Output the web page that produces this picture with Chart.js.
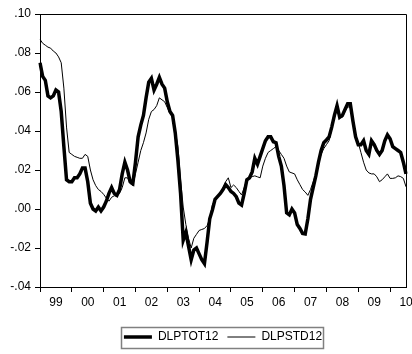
<!DOCTYPE html>
<html>
<head>
<meta charset="utf-8">
<script src="https://cdn.jsdelivr.net/npm/chart.js@4.4.1/dist/chart.umd.min.js"></script>
<style>
  html, body { margin: 0; padding: 0; background: #ffffff; }
  #wrap { width: 412px; height: 354px; }
</style>
</head>
<body>
<div id="wrap"><canvas id="chart" width="412" height="354"></canvas></div>
<script>
// Monthly observations, 1999M01 .. 2010M07
const startYear = 1999;

// DLPTOT12 (thick line)
const dlptot12 = [
  0.075, 0.068, 0.066, 0.058, 0.057, 0.058, 0.061, 0.060, 0.050, 0.032, 0.015, 0.014,
  0.014, 0.016, 0.016, 0.018, 0.021, 0.021, 0.014, 0.003, 0.000, -0.001, 0.001, -0.001,
  0.001, 0.004, 0.008, 0.011, 0.008, 0.007, 0.010, 0.018, 0.024, 0.020, 0.014, 0.013,
  0.024, 0.037, 0.043, 0.048, 0.057, 0.065, 0.067, 0.061, 0.064, 0.0675, 0.064, 0.062,
  0.055, 0.050, 0.048, 0.039, 0.025, 0.008, -0.016, -0.012, -0.019, -0.026, -0.021, -0.020,
  -0.023, -0.026, -0.028, -0.017, -0.005, -0.0005, 0.005, 0.0065, 0.008, 0.010, 0.0125, 0.011,
  0.009, 0.008, 0.0063, 0.003, 0.002, 0.008, 0.015, 0.016, 0.019, 0.026, 0.023, 0.027,
  0.031, 0.035, 0.037, 0.037, 0.0345, 0.034, 0.027, 0.022, 0.012, -0.002, -0.003, 0.000,
  -0.002, -0.008, -0.010, -0.0125, -0.0128, -0.005, 0.005, 0.011, 0.017, 0.024, 0.030, 0.034,
  0.0354, 0.037, 0.042, 0.048, 0.053, 0.047, 0.048, 0.051, 0.054, 0.054, 0.045, 0.037,
  0.033, 0.033, 0.035, 0.030, 0.028, 0.035, 0.033, 0.030, 0.028, 0.030, 0.035, 0.038,
  0.036, 0.032, 0.031, 0.030, 0.029, 0.024, 0.018
];

// DLPSTD12 (thin line)
const dlpstd12 = [
  0.087, 0.085, 0.084, 0.083, 0.0825, 0.081, 0.080, 0.078, 0.075, 0.062, 0.042, 0.029,
  0.028, 0.027, 0.0265, 0.026, 0.026, 0.028, 0.027, 0.020, 0.015, 0.012, 0.010, 0.009,
  0.0075, 0.0056, 0.004, 0.006, 0.0068, 0.0065, 0.008, 0.011, 0.016, 0.016, 0.013, 0.012,
  0.018, 0.024, 0.030, 0.034, 0.039, 0.046, 0.050, 0.051, 0.053, 0.057, 0.056, 0.055,
  0.052, 0.049, 0.048, 0.040, 0.032, 0.015, 0.001, -0.008, -0.015, -0.020, -0.015, -0.013,
  -0.011, -0.0105, -0.010, -0.0085, -0.005, 0.002, 0.005, 0.006, 0.0085, 0.011, 0.014, 0.016,
  0.011, 0.0123, 0.011, 0.009, 0.0072, 0.011, 0.015, 0.016, 0.0166, 0.017, 0.0165, 0.016,
  0.022, 0.026, 0.029, 0.030, 0.031, 0.032, 0.030, 0.028, 0.026, 0.022, 0.019, 0.0185,
  0.018, 0.015, 0.0125, 0.010, 0.0087, 0.007, 0.010, 0.014, 0.018, 0.024, 0.028, 0.031,
  0.033, 0.035, 0.041, 0.047, 0.0508, 0.047, 0.047, 0.050, 0.0525, 0.052, 0.044, 0.038,
  0.034, 0.029, 0.024, 0.020, 0.0185, 0.018, 0.018, 0.0165, 0.014, 0.015, 0.0165, 0.018,
  0.0157, 0.0157, 0.016, 0.017, 0.0166, 0.0157, 0.0114
];

// Year labels shown under the axis, one per calendar year
const yearLabels = ['99', '00', '01', '02', '03', '04', '05', '06', '07', '08', '09', '10'];

// Y axis range and step
const yMin = -0.04, yMax = 0.10, yStep = 0.02;

// Category labels "YYYY-MM"
const months = dlptot12.map((_, i) =>
  (startYear + Math.floor(i / 12)) + '-' + String(i % 12 + 1).padStart(2, '0'));

Chart.defaults.font.family = '"Liberation Sans", Arial, sans-serif';
Chart.defaults.font.size = 12;
Chart.defaults.color = '#000000';

// Box around the plot (top and right sides) and around the legend
const framePlugin = {
  id: 'frame',
  afterDraw(chart) {
    const { ctx, chartArea: a } = chart;
    ctx.save();
    ctx.strokeStyle = '#000000';
    ctx.lineWidth = 1;
    ctx.beginPath();
    ctx.moveTo(Math.round(a.left), Math.round(a.top) + 0.5);
    ctx.lineTo(Math.round(a.right) + 0.5, Math.round(a.top) + 0.5);
    ctx.lineTo(Math.round(a.right) + 0.5, Math.round(a.bottom));
    ctx.stroke();

    const hb = chart.legend && chart.legend.legendHitBoxes;
    if (hb && hb.length) {
      const first = hb[0], last = hb[hb.length - 1];
      const x0 = Math.round(first.left - 3) + 0.5;
      const x1 = Math.round(last.left + last.width + 1) + 0.5;
      const y0 = Math.round(first.top - 4) + 0.5;
      const y1 = Math.round(first.top + first.height + 5) + 0.5;
      ctx.strokeStyle = '#808080';
      ctx.lineWidth = 1.5;
      ctx.strokeRect(x0, y0, x1 - x0, y1 - y0);
    }
    ctx.restore();
  }
};

new Chart(document.getElementById('chart'), {
  type: 'line',
  data: {
    labels: months,
    datasets: [
      {
        label: 'DLPTOT12',
        data: dlptot12,
        borderColor: '#000000',
        backgroundColor: '#000000',
        borderWidth: 3.5,
        pointRadius: 0,
        tension: 0
      },
      {
        label: 'DLPSTD12',
        data: dlpstd12,
        borderColor: '#000000',
        backgroundColor: '#000000',
        borderWidth: 1,
        pointRadius: 0,
        tension: 0
      }
    ]
  },
  options: {
    responsive: false,
    animation: false,
    devicePixelRatio: 1,
    layout: { padding: { left: 0, right: 6, top: 14, bottom: 1 } },
    plugins: {
      legend: {
        position: 'bottom',
        fullSize: false,
        labels: {
          usePointStyle: true,
          pointStyle: 'line',
          pointStyleWidth: 28,
          boxWidth: 28,
          padding: 9,
          color: '#000000',
          font: { size: 12 }
        }
      },
      tooltip: { enabled: false }
    },
    scales: {
      x: {
        type: 'category',
        offset: false,
        afterBuildTicks(scale) {
          scale.ticks = scale.ticks.filter(t => months[t.value].endsWith('-01'));
        },
        afterFit(scale) { scale.height = 35; },
        ticks: {
          autoSkip: false,
          maxRotation: 0,
          minRotation: 0,
          labelOffset: 16,
          padding: 3,
          color: '#000000',
          font: { size: 12 },
          callback: (value, index) => yearLabels[index]
        },
        grid: {
          offset: false,
          drawOnChartArea: false,
          drawTicks: true,
          tickLength: 5,
          tickColor: '#000000',
          lineWidth: 1
        },
        border: { display: true, color: '#000000', width: 1 }
      },
      y: {
        min: yMin,
        max: yMax,
        afterFit(scale) { scale.width = 40; },
        ticks: {
          stepSize: yStep,
          padding: 4,
          color: '#000000',
          font: { size: 12 },
          callback: (v) => {
            const s = Math.abs(v).toFixed(2).replace(/^0/, '');
            return (v < -1e-9 ? '-' : '') + s;
          }
        },
        grid: {
          drawOnChartArea: false,
          drawTicks: true,
          tickLength: 5,
          tickColor: '#000000',
          lineWidth: 1
        },
        border: { display: true, color: '#000000', width: 1 }
      }
    }
  },
  plugins: [framePlugin]
});
</script>
</body>
</html>
